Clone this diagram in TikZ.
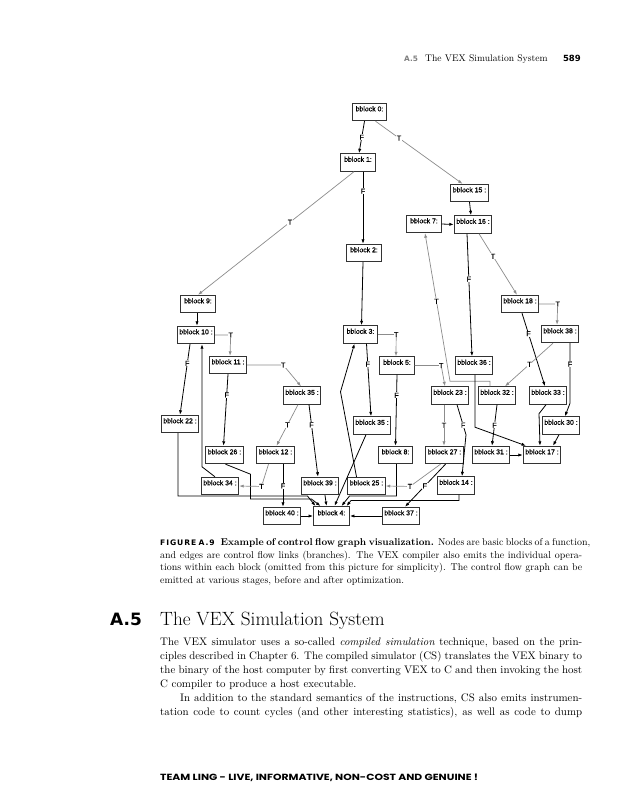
\documentclass[tikz,border=0pt]{standalone}
\usepackage{fontspec}
\usetikzlibrary{arrows.meta,calc}
\newfontfamily\nodefont{Liberation Sans}[FakeBold=0.6]
\newfontfamily\hvb{DejaVu Sans}
\newfontfamily\footfont{Poppins}
\newcommand\jl[1]{\hbox to 422pt{#1}}
\begin{document}
\begin{tikzpicture}[x=1pt,y=-1pt,
  bb/.style={draw=black!80, line width=0.9pt, minimum height=17.5pt, minimum width=37.5pt, inner sep=0pt,
    text height=4pt, text depth=5.5pt, font=\nodefont\fontsize{6.9}{7}\selectfont, fill=white},
  bs/.style={bb, minimum width=34.5pt},
  fe/.style={draw=black, line width=0.8pt, -{Latex[length=4.5pt,width=3.2pt]}},
  te/.style={draw=black!45, line width=0.7pt, -{Latex[length=4.5pt,width=3.2pt]}},
  lbl/.style={font=\nodefont\fontsize{7.2}{7}\selectfont, fill=white, inner sep=0.5pt, text=black},
  txt/.style={anchor=base west, inner sep=0pt},
  captxt/.style={txt, font=\fontsize{9.9}{11}\selectfont},
  bodytxt/.style={txt, font=\fontsize{10.9}{12}\selectfont},
]
\useasboundingbox[fill=white] (0,0) rectangle (635,800);

% nodes
\node[bs] (b0) at (369.5,112) {bblock 0:};
\node[bs] (b1) at (358,162.5) {bblock 1:};
\node[bs] (b2) at (364,253) {bblock 2:};
\node[bs] (b7) at (424,224) {bblock 7:};
\node[bb] (b15) at (469.5,193) {bblock 15 :};
\node[bb] (b16) at (473,224.5) {bblock 16 :};
\node[bb] (b18) at (520,304) {bblock 18 :};
\node[bb] (b38) at (560,334) {bblock 38 :};
\node[bs] (b9) at (198,304) {bblock 9:};
\node[bb] (b10) at (196,335) {bblock 10 :};
\node[bb] (b11) at (228,365) {bblock 11 :};
\node[bb] (b35a) at (302,395.5) {bblock 35 :};
\node[bb] (b22) at (180,424) {bblock 22 :};
\node[bs] (b3) at (360.5,334.5) {bblock 3:};
\node[bs] (b5) at (397,365.5) {bblock 5:};
\node[bb] (b36) at (474,365.5) {bblock 36 :};
\node[bb] (b23) at (450,395.5) {bblock 23 :};
\node[bb] (b32) at (497,395.5) {bblock 32 :};
\node[bb] (b33) at (548,395.5) {bblock 33 :};
\node[bb] (b30) at (561,425.5) {bblock 30 :};
\node[bb] (b35b) at (372,425.5) {bblock 35 :};
\node[bb] (b26) at (224.5,455) {bblock 26 :};
\node[bb] (b12) at (275.5,455) {bblock 12 :};
\node[bs] (b8) at (395.5,455) {bblock 8:};
\node[bb] (b27) at (444.5,455) {bblock 27 :};
\node[bb] (b31) at (491,455) {bblock 31 :};
\node[bb] (b17) at (542,455) {bblock 17 :};
\node[bb] (b14) at (456,485.5) {bblock 14 :};
\node[bb] (b34) at (220,486) {bblock 34 :};
\node[bb] (b39) at (320,486) {bblock 39 :};
\node[bb] (b25) at (366.5,486) {bblock 25 :};
\node[bb] (b40) at (282,516) {bblock 40 :};
\node[bb, minimum width=36pt, minimum height=19pt] (b4) at (331.5,516) {bblock 4:};
\node[bb] (b37) at (401,516) {bblock 37 :};

% edges
\draw[fe] ([xshift=-5pt]b0.south) -- node[lbl]{F} ([xshift=1pt]b1.north);
\draw[te] ([xshift=6pt]b0.south) -- node[lbl,pos=0.27]{T} ([xshift=-7pt]b15.north);
\draw[fe] ([xshift=5pt]b1.south) -- node[lbl,pos=0.27]{F} ([xshift=-1pt]b2.north);
\draw[te] ([xshift=-4pt]b1.south) -- node[lbl,pos=0.41]{T} (b9.north);
\draw[fe] (b15.south) -- ([xshift=-2pt]b16.north);
\draw[fe] (b7.east) -- (b16.west);
\draw[te] ([xshift=6pt]b16.south) -- node[lbl,pos=0.37]{T} ([xshift=-3pt]b18.north);
\draw[fe] ([xshift=-6pt]b16.south) -- node[lbl,pos=0.37]{F} ([xshift=-2pt]b36.north);
\draw[te] ([xshift=-7pt]b32.north) -- ++(0,-5) -- ++(-40,0) -- node[lbl,pos=0.54]{T} ([xshift=1pt]b7.south);
\draw[te] (b18.east) -- ++(18.5,0) node[lbl]{T} -- ([xshift=-3pt]b38.north);
\draw[fe] ([xshift=2pt]b18.south) -- node[lbl,pos=0.28]{F} ([xshift=-3pt]b33.north);
\draw[te] ([xshift=-7pt]b38.south) -- node[lbl,pos=0.49]{T} ([xshift=8pt]b32.north);
\draw[fe] ([xshift=10pt]b38.south) -- node[lbl,pos=0.35]{F} ++(0,60) -- ([xshift=4pt]b30.north);
\draw[fe] ([xshift=-1pt]b9.south) -- ([xshift=1pt]b10.north);
\draw[te] (b10.east) -- ++(15.5,0) node[lbl]{T} -- ([xshift=2pt]b11.north);
\draw[fe] ([xshift=-6pt]b10.south) -- node[lbl,pos=0.27]{F} (b22.north);
\draw[fe] ([xshift=-5pt]b34.north) -- ++(-13,-10) -- ([xshift=6pt]b10.south);
\draw[te] (b11.east) -- ++(36,0) node[lbl]{T} -- ([xshift=-1pt]b35a.north);
\draw[fe] (b11.south) -- node[lbl,pos=0.29]{F} ([xshift=-1pt]b26.north);
\draw[te] ([xshift=-4pt]b35a.south) -- node[lbl,pos=0.49]{T} ([xshift=1pt]b12.north);
\draw[fe] ([xshift=7pt]b35a.south) -- node[lbl,pos=0.28]{F} ([xshift=-2pt]b39.north);
\draw[fe] ([xshift=-2pt]b22.south) |- ([xshift=-24pt,yshift=10pt]b4.north) -- ([xshift=-16pt]b4.north);
\draw[fe] ([xshift=1pt]b26.south) -- ++(25,10) |- ([xshift=-20pt,yshift=7pt]b4.north) -- ([xshift=-11pt]b4.north);
\draw[te] ([xshift=-7pt]b12.south) -- ++(-7,22.25) node[lbl]{T} -- (b34.east);
\draw[fe] ([xshift=7.5pt]b12.south) -- node[lbl,pos=0.51]{F} ([xshift=1pt]b40.north);
\draw[fe] ([xshift=5pt]b39.south) -- ([xshift=-5pt]b4.north);
\draw[fe] (b40.east) -- (b4.west);
\draw[fe] ([xshift=-6pt]b35b.south) -- ([xshift=3pt]b4.north);
\draw[fe] ([xshift=-10pt]b25.north) -- ++(-16,-85) -- ([xshift=-6pt]b3.south);
\draw[fe] ([xshift=1pt]b8.south) |- ([xshift=18pt,yshift=10pt]b4.north) -- ([xshift=10pt]b4.north);
\draw[fe] ([xshift=3pt]b14.south) |- ([xshift=19.5pt,yshift=5.5pt]b4.north) -- ([xshift=15pt]b4.north);
\draw[te] (b3.east) -- ++(18,0) node[lbl]{T} -- ([xshift=-1pt]b5.north);
\draw[fe] ([xshift=6pt]b3.south) -- node[lbl,pos=0.28]{F} ([xshift=-1pt]b35b.north);
\draw[fe] ([xshift=-1pt]b2.south) -- ([xshift=1pt]b3.north);
\draw[te] (b5.east) -- ++(26.5,0) node[lbl]{T} -- ([xshift=-5pt]b23.north);
\draw[fe] (b5.south) -- node[lbl,pos=0.29]{F} (b8.north);
\draw[fe] ([xshift=1pt]b36.south) -- ++(0,52.5) -- ([xshift=-16pt]b17.north);
\draw[te] ([xshift=-6pt]b23.south) -- node[lbl]{T} ([xshift=-0.5pt]b27.north);
\draw[fe] ([xshift=7pt]b23.south) -- node[lbl,pos=0.68]{F} ++(9,30) -- ([xshift=6pt]b14.north);
\draw[fe] (b32.south) -- node[lbl]{F} ([xshift=1pt]b31.north);
\draw[fe] ([xshift=-2pt]b33.south) -- ++(-7,9) -- ([xshift=-2pt]b17.north);
\draw[fe] ([xshift=-2pt]b30.south) -- ([xshift=11pt]b17.north);
\draw[fe] (b31.east) -- (b17.west);
\draw[te] ([xshift=-4pt]b27.south) -- ++(-30.5,22.25) node[lbl]{T} -- (b25.east);
\draw[fe] ([xshift=1pt]b27.south) -- node[lbl,pos=0.51]{F} ([xshift=4pt]b37.north);
\draw[fe] (b37.west) -- (b4.east);

% running head
\node[txt, font=\hvb\bfseries\fontsize{7.4}{8}\selectfont, text=black!50] (hA) at (404,62) {A.5};
\node[txt, font=\fontsize{9.6}{11}\selectfont] (hT) at (425,62) {The VEX Simulation System};
\node[txt, anchor=base east, font=\hvb\bfseries\fontsize{8.5}{10}\selectfont] (hP) at (581,62) {589};

% caption
\node[captxt] (c1) at (160,545.5) {\jl{{\hvb\bfseries\fontsize{7.6}{8}\selectfont\addfontfeatures{LetterSpace=12}FIGURE A.9}\hspace{5pt}\textbf{Example of control flow graph visualization.} Nodes are basic blocks of a function,}};
\node[captxt] (c2) at (160,558) {\jl{and edges are control flow links (branches). The VEX compiler also emits the individual opera-}};
\node[captxt] (c3) at (160,570.5) {\jl{tions within each block (omitted from this picture for simplicity). The control flow graph can be}};
\node[captxt] (c4) at (160,583) {emitted at various stages, before and after optimization.};

% section heading
\node[txt, font=\hvb\bfseries\fontsize{17}{20}\selectfont] (sA) at (110,625) {A.5};
\node[txt, font=\fontsize{19.2}{22}\selectfont] (sT) at (160,625) {The VEX Simulation System};

% body
\node[bodytxt] (p1) at (160,645.5) {\jl{The VEX simulator uses a so-called \emph{compiled simulation} technique, based on the prin-}};
\node[bodytxt] (p2) at (160,659) {\jl{ciples described in Chapter 6. The compiled simulator (CS) translates the VEX binary to}};
\node[bodytxt] (p3) at (160,673) {\jl{the binary of the host computer by first converting VEX to C and then invoking the host}};
\node[bodytxt] (p4) at (160,687) {C compiler to produce a host executable.};
\node[bodytxt] (p5) at (180,701) {\hbox to 402pt{In addition to the standard semantics of the instructions, CS also emits instrumen-}};
\node[bodytxt] (p6) at (160,715) {\jl{tation code to count cycles (and other interesting statistics), as well as code to dump}};

% footer
\node[txt] (ft) at (160,780) {\resizebox{318pt}{6.5pt}{\footfont\bfseries TEAM LING - LIVE, INFORMATIVE, NON-COST AND GENUINE !}};
\end{tikzpicture}
\end{document}
